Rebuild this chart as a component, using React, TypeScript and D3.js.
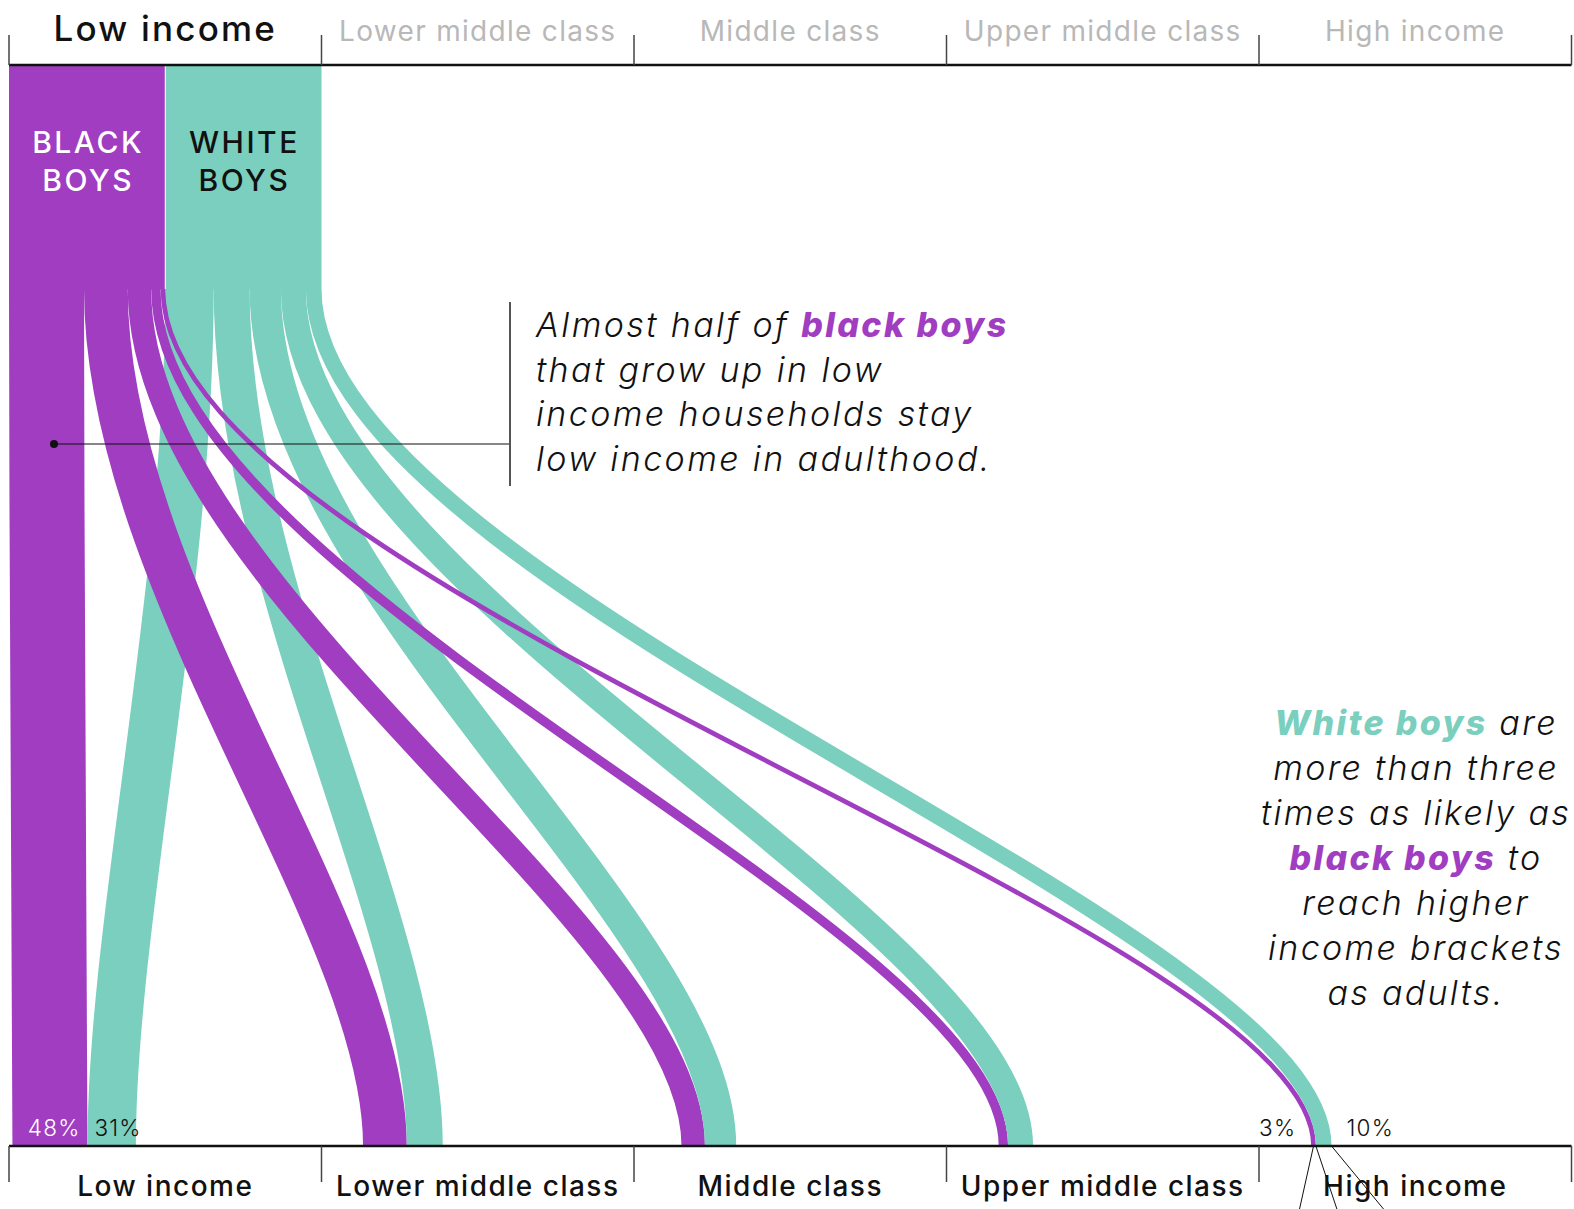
import * as d3 from "d3";

// income brackets (childhood bracket is always the first one)
const brackets = [
  "Low income",
  "Lower middle class",
  "Middle class",
  "Upper middle class",
  "High income",
];

// adult income bracket of boys raised in low income households, in percent
const blackShares = [48, 28, 15, 6, 3];
const whiteShares = [31, 23, 20, 16, 10];

const groupLabels = [
  ["BLACK", "BOYS"],
  ["WHITE", "BOYS"],
];

// brackets whose percentages are written next to the flows
const labelledBrackets = [0, 4];

// where the black/white pair lands inside each adult bracket (fraction of bracket width)
const landingAt = [0.251, 0.273, 0.227, 0.197, 0.182];

const note1: [string, boolean][][] = [
  [["Almost half of ", false], ["black boys", true]],
  [["that grow up in low", false]],
  [["income households stay", false]],
  [["low income in adulthood.", false]],
];

const note2: [string, string | null][][] = [
  [["White boys", "white"], [" are", null]],
  [["more than three", null]],
  [["times as likely as", null]],
  [["black boys", "black"], [" to", null]],
  [["reach higher", null]],
  [["income brackets", null]],
  [["as adults.", null]],
];

const width = 1574;
const height = 1209;
const left = 9;
const right = 1571.5;
const axisTop = 65;
const flowTop = 289;
const axisBottom = 1146;

const purple = "#a03dc1";
const teal = "#7acfbe";
const font = "Inter, Lato, sans-serif";

export default function App() {
  const x = d3.scaleBand<string>().domain(brackets).range([left, right]);
  const bw = x.bandwidth();
  // 100% of one group fills half a bracket
  const pct = d3.scaleLinear().domain([0, 100]).range([0, bw / 2]);

  const series = [blackShares, whiteShares];
  const colors = [purple, teal];
  const dy = axisBottom - flowTop;

  const flows = brackets.flatMap((b, j) =>
    series.map((shares, g) => {
      const before = d3.sum(shares.slice(0, j));
      const w = pct(shares[j]);
      const x0 = (x(brackets[0]) ?? 0) + g * pct(100) + pct(before) + w / 2;
      const junction = (x(b) ?? 0) + landingAt[j] * bw;
      const x1 = g === 0 ? junction - w / 2 : junction + w / 2;
      const p = d3.path();
      p.moveTo(x0, flowTop);
      p.bezierCurveTo(x0, flowTop + 0.35 * dy, x1, axisBottom - 0.26 * dy, x1, axisBottom);
      return { key: `${j}-${g}`, d: p.toString(), w, color: colors[g], x1, j, g, junction };
    }),
  );

  const boundaries = [...brackets.map((b) => x(b) ?? 0), right];
  const hi = flows.filter((f) => f.j === 4);
  const hiBlack = hi[0];
  const hiWhite = hi[1];

  return (
    <svg
      width={width}
      height={height}
      style={{ position: "absolute", left: 0, top: 0, background: "#fff" }}
      fontFamily={font}
    >
      {/* childhood bracket blocks */}
      {series.map((_, g) => (
        <rect
          key={g}
          x={(x(brackets[0]) ?? 0) + g * pct(100)}
          y={axisTop}
          width={pct(100)}
          height={flowTop - axisTop + 0.5}
          fill={colors[g]}
        />
      ))}
      <line
        x1={left + pct(100)}
        x2={left + pct(100)}
        y1={axisTop}
        y2={flowTop}
        stroke="#fff"
        strokeWidth={1}
      />
      {groupLabels.map((lines, g) =>
        lines.map((t, i) => (
          <text
            key={`${g}-${i}`}
            x={left + g * pct(100) + pct(50) + 1}
            y={153 + i * 38}
            textAnchor="middle"
            fontSize={30}
            fontWeight={500}
            letterSpacing={2.5}
            fill={g === 0 ? "#fff" : "#111"}
          >
            {t}
          </text>
        )),
      )}

      {/* flows */}
      <g fill="none">
        {flows.map((f) => (
          <path key={f.key} d={f.d} stroke={f.color} strokeWidth={f.w} />
        ))}
      </g>

      {/* percentage labels */}
      {labelledBrackets.map((j) => {
        const fb = flows.find((f) => f.j === j && f.g === 0)!;
        const fw = flows.find((f) => f.j === j && f.g === 1)!;
        const inside = j === 0;
        return (
          <g key={j} fontSize={22.5} fontWeight={300} letterSpacing={1.2}>
            <text
              x={inside ? fb.junction - 7 : fb.junction - fb.w - 15}
              y={1136}
              textAnchor="end"
              fill={inside ? "#fff" : "#111"}
            >
              {blackShares[j]}%
            </text>
            <text
              x={inside ? fw.junction + 7 : fw.junction + fw.w + 15}
              y={1136}
              fill="#111"
            >
              {whiteShares[j]}%
            </text>
          </g>
        );
      })}

      {/* top axis */}
      <line x1={left} x2={right} y1={axisTop} y2={axisTop} stroke="#111" strokeWidth={2.5} />
      {boundaries.map((bx, i) => (
        <line key={i} x1={bx} x2={bx} y1={35} y2={axisTop} stroke="#444" strokeWidth={1.5} />
      ))}
      {brackets.map((b, i) => (
        <text
          key={b}
          x={(x(b) ?? 0) + bw / 2}
          y={41}
          textAnchor="middle"
          fontSize={i === 0 ? 35 : 28}
          fontWeight={i === 0 ? 500 : 400}
          letterSpacing={i === 0 ? 2.2 : 1.3}
          fill={i === 0 ? "#111" : "#b8b8b8"}
        >
          {b}
        </text>
      ))}

      {/* bottom axis */}
      <line x1={left} x2={right} y1={axisBottom} y2={axisBottom} stroke="#111" strokeWidth={2.5} />
      {boundaries.map((bx, i) => (
        <line key={i} x1={bx} x2={bx} y1={axisBottom} y2={1182} stroke="#444" strokeWidth={1.5} />
      ))}
      {brackets.map((b) => (
        <text
          key={b}
          x={(x(b) ?? 0) + bw / 2}
          y={1196}
          textAnchor="middle"
          fontSize={28}
          fontWeight={500}
          letterSpacing={1.5}
          fill="#111"
        >
          {b}
        </text>
      ))}

      {/* leader lines running off the bottom */}
      <g stroke="#111" strokeWidth={1}>
        <line x1={hiBlack.x1} y1={axisBottom} x2={hiBlack.x1 - 14} y2={height} />
        <line x1={hiBlack.junction} y1={axisBottom} x2={hiBlack.junction + 21} y2={height} />
        <line x1={hiWhite.junction + hiWhite.w} y1={axisBottom} x2={hiWhite.junction + hiWhite.w + 52} y2={height} />
      </g>

      {/* annotation: staying low income */}
      <circle cx={54} cy={444} r={4} fill="#111" />
      <line x1={54} x2={510} y1={444} y2={444} stroke="#111" strokeWidth={1.2} />
      <line x1={510} x2={510} y1={302} y2={486} stroke="#555" strokeWidth={2} />
      <g fontSize={34} fontStyle="italic" fontWeight={300} fill="#111" letterSpacing={2.4}>
        {note1.map((line, i) => (
          <text key={i} x={536} y={337 + i * 44.5}>
            {line.map(([t, bold], k) => (
              <tspan key={k} fontWeight={bold ? 800 : 300} fill={bold ? purple : "#111"}>
                {t}
              </tspan>
            ))}
          </text>
        ))}
      </g>

      {/* annotation: reaching higher brackets */}
      <g fontSize={34} fontStyle="italic" fontWeight={300} fill="#111" letterSpacing={2.3}>
        {note2.map((line, i) => (
          <text key={i} x={1416} y={735 + i * 45} textAnchor="middle">
            {line.map(([t, who], k) => (
              <tspan
                key={k}
                fontWeight={who ? 800 : 300}
                fill={who === "white" ? teal : who === "black" ? purple : "#111"}
              >
                {t}
              </tspan>
            ))}
          </text>
        ))}
      </g>
    </svg>
  );
}
